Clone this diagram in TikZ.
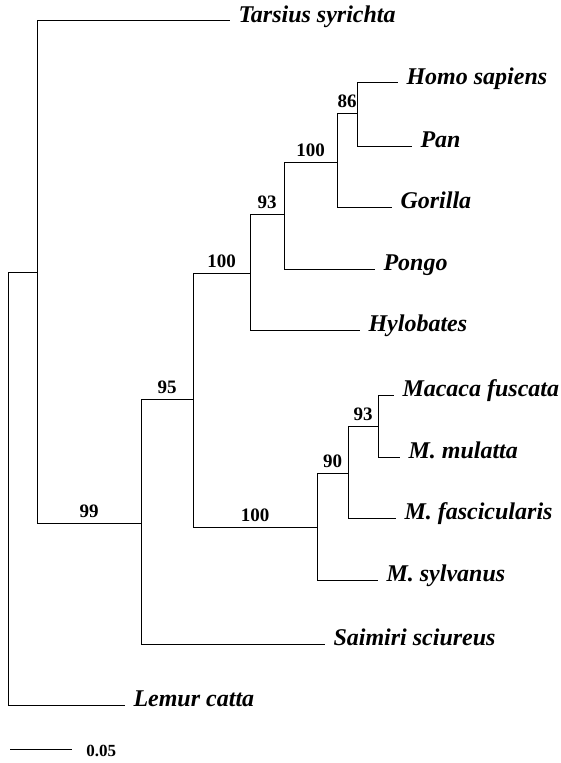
\documentclass[tikz,border=0pt]{standalone}
\usepackage{fontspec}
\setmainfont{Liberation Serif}
\usepackage{tikz}
\usetikzlibrary{positioning}

\tikzset{
  branch/.style={draw=black, line width=0.9pt},
  taxon/.style={anchor=west, inner sep=0pt, outer xsep=8.5pt,
                text height=0.68em, text depth=0.33em,
                font=\fontsize{24}{28}\selectfont\bfseries\itshape},
  support/.style={above, inner sep=4.5pt, font=\fontsize{19}{22}\selectfont\bfseries}
}

\begin{document}
\begin{tikzpicture}[x=1pt, y=-1pt]
  \useasboundingbox (0,0) rectangle (560,763);

  % internal nodes
  \coordinate (root) at (8,272);
  \coordinate (nA) at (37,272);
  \coordinate (nB) at (141,523);
  \coordinate (nC) at (193,399);
  \coordinate (nD) at (250,273);
  \coordinate (nE) at (284,214);
  \coordinate (nF) at (337,162);
  \coordinate (nG) at (357,113);
  \coordinate (nH) at (317,527);
  \coordinate (nI) at (348,473);
  \coordinate (nJ) at (378,426);

  % taxa
  \node[taxon] (tarsius) at (230,20.7) {Tarsius syrichta};
  \node[taxon] (homo) at (398,82.7) {Homo sapiens};
  \node[taxon] (pan) at (412,146) {Pan};
  \node[taxon] (gorilla) at (392,207) {Gorilla};
  \node[taxon] (pongo) at (375,269) {Pongo};
  \node[taxon] (hylobates) at (360,330) {Hylobates};
  \node[taxon] (fuscata) at (394,395) {Macaca fuscata};
  \node[taxon] (mulatta) at (400,457) {M. mulatta};
  \node[taxon] (fascic) at (396,518) {M. fascicularis};
  \node[taxon] (sylvanus) at (378,580) {M. sylvanus};
  \node[taxon] (saimiri) at (325,644) {Saimiri sciureus};
  \node[taxon] (lemur) at (125,705) {Lemur catta};

  % branches
  \draw[branch] (root) -- (nA);
  \draw[branch] (root) |- (lemur.west);
  \draw[branch] (nA) |- (tarsius.west);
  \draw[branch] (nA) |- (nB) node[support, pos=0.75] {99};
  \draw[branch] (nB) |- (saimiri.west);
  \draw[branch] (nB) |- (nC) node[support, pos=0.75] {95};
  \draw[branch] (nC) |- (nD) node[support, pos=0.75] {100};
  \draw[branch] (nC) |- (nH) node[support, pos=0.75] {100};
  \draw[branch] (nD) |- (hylobates.west);
  \draw[branch] (nD) |- (nE) node[support, pos=0.75] {93};
  \draw[branch] (nE) |- (pongo.west);
  \draw[branch] (nE) |- (nF) node[support, pos=0.75] {100};
  \draw[branch] (nF) |- (gorilla.west);
  \draw[branch] (nF) |- (nG) node[support, pos=0.75] {86};
  \draw[branch] (nG) |- (homo.west);
  \draw[branch] (nG) |- (pan.west);
  \draw[branch] (nH) |- (sylvanus.west);
  \draw[branch] (nH) |- (nI) node[support, pos=0.75] {90};
  \draw[branch] (nI) |- (fascic.west);
  \draw[branch] (nI) |- (nJ) node[support, pos=0.75] {93};
  \draw[branch] (nJ) |- (fuscata.west);
  \draw[branch] (nJ) |- (mulatta.west);

  % scale bar
  \coordinate (sbL) at (10,749);
  \coordinate (sbR) at (72,749);
  \draw[branch] (sbL) -- (sbR)
    node[right, inner sep=0pt, xshift=14pt, yshift=-2pt,
         font=\fontsize{17}{20}\selectfont\bfseries] (sblabel) {0.05};
\end{tikzpicture}
\end{document}
